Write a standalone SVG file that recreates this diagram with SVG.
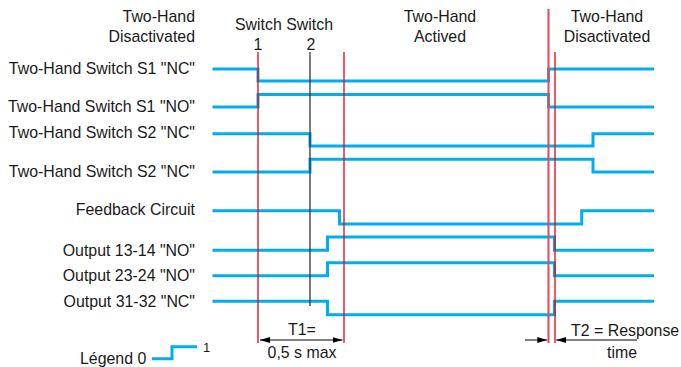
<svg xmlns="http://www.w3.org/2000/svg" width="681" height="367" viewBox="0 0 681 367">
<style>
text{font-family:"Liberation Sans",Arial,sans-serif;font-size:15.9px;fill:#1a1a1a}
.r{text-anchor:end}
.m{text-anchor:middle}
.sig{fill:none;stroke:#00aeef;stroke-width:3;stroke-linejoin:miter}
.red{stroke:#e30613;stroke-width:1.3;fill:none}
.pink{stroke:#e8455c;stroke-width:2;fill:none}
.blk{stroke:#333;stroke-width:1.3;fill:none}
.arr{stroke:#000;stroke-width:1;fill:none}
</style>
<defs>
<marker id="ah" viewBox="0 0 10 6" markerWidth="10" markerHeight="6" refX="10" refY="3" orient="auto-start-reverse" markerUnits="userSpaceOnUse">
<path d="M0,0 L10,3 L0,6 z" fill="#000"/>
</marker>
</defs>
<g id="headers">
<text class="r" x="195" y="22">Two-Hand</text>
<text class="r" x="195" y="42">Disactivated</text>
<text class="m" x="284" y="30">Switch Switch</text>
<text class="m" x="258" y="50">1</text>
<text class="m" x="311" y="50">2</text>
<text class="m" x="440" y="22">Two-Hand</text>
<text class="m" x="440" y="42">Actived</text>
<text class="m" x="607" y="22">Two-Hand</text>
<text class="m" x="607" y="42">Disactivated</text>
</g>
<g id="labels">
<text class="r" x="195" y="73.5">Two-Hand Switch S1 "NC"</text>
<text class="r" x="195" y="111.5">Two-Hand Switch S1 "NO"</text>
<text class="r" x="195" y="138.2">Two-Hand Switch S2 "NC"</text>
<text class="r" x="195" y="176.5">Two-Hand Switch S2 "NC"</text>
<text class="r" x="195" y="215.2">Feedback Circuit</text>
<text class="r" x="195" y="255.5">Output 13-14 "NO"</text>
<text class="r" x="195" y="281">Output 23-24 "NO"</text>
<text class="r" x="195" y="306.5">Output 31-32 "NC"</text>
</g>
<g id="signals">
<path id="s1nc" class="sig" d="M212.5,69 H258 V81 H548.5 V69 H654"/>
<path id="s1no" class="sig" d="M212.5,107 H258 V94.5 H548.5 V107 H654"/>
<path id="s2nc" class="sig" d="M212.5,133.7 H310 V146 H593 V133.7 H654"/>
<path id="s2nc2" class="sig" d="M212.5,172 H310 V159.3 H593 V172 H654"/>
<path id="feedback" class="sig" d="M212.5,210.7 H339.5 V224 H581.7 V210.7 H654"/>
<path id="out1314" class="sig" d="M212.5,250.3 H327.5 V237 H554.5 V250.3 H654"/>
<path id="out2324" class="sig" d="M212.5,275.7 H327.5 V262.7 H554.5 V275.7 H654"/>
<path id="out3132" class="sig" d="M212.5,301.3 H327.5 V314.7 H554.5 V301.3 H654"/>
</g>
<g id="connectors">
<line class="red" x1="258" y1="52" x2="258" y2="343"/>
<line class="blk" x1="310" y1="52" x2="310" y2="306"/>
<line class="red" x1="344" y1="52" x2="344" y2="343"/>
<line class="pink" x1="548.5" y1="9" x2="548.5" y2="343"/>
<line class="red" x1="555" y1="52" x2="555" y2="343"/>
<line class="arr" x1="260" y1="340" x2="342.5" y2="340" marker-start="url(#ah)" marker-end="url(#ah)"/>
<line class="arr" x1="525" y1="340" x2="547.3" y2="340" marker-end="url(#ah)"/>
<line class="arr" x1="637" y1="340" x2="556.3" y2="340" marker-end="url(#ah)"/>
</g>
<g id="timing">
<text class="m" x="302" y="335">T1=</text>
<text class="m" x="302" y="358.3">0,5 s max</text>
<text x="571" y="336">T2 = Response</text>
<text class="m" x="622" y="358">time</text>
</g>
<g id="legend">
<text x="80" y="363.5">Légend 0</text>
<path class="sig" d="M152,358.7 H172 V346.7 H197"/>
<text x="203" y="352" style="font-size:13px">1</text>
</g>
</svg>
